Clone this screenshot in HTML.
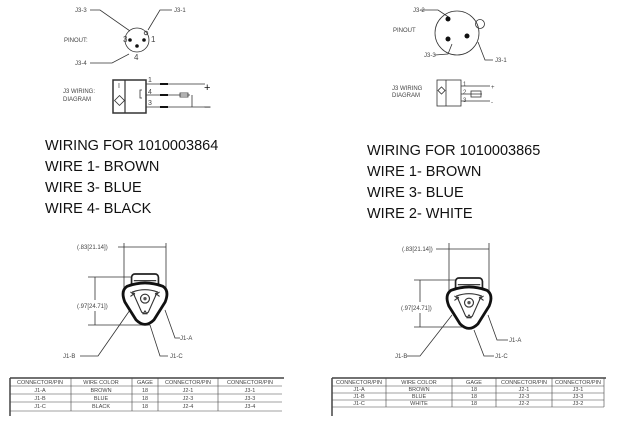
<!DOCTYPE html>
<html><head><style>
body{margin:0;background:#fff;width:624px;height:425px;overflow:hidden}
svg{display:block}
.s{font-family:"Liberation Sans",sans-serif;font-size:6px;fill:#444}
.b{font-family:"Liberation Sans",sans-serif;font-size:14.5px;fill:#111}
.t{font-family:"Liberation Sans",sans-serif;font-size:5.5px;fill:#444;text-anchor:middle}
</style></head><body>
<svg width="624" height="425" viewBox="0 0 624 425">
<defs>
<g id="conn">
 <rect x="-12" y="-25" width="24" height="12" rx="3" fill="#fff" stroke="#222" stroke-width="1.5"/>
 <line x1="-10" y1="-19" x2="10" y2="-19" stroke="#222"/>
 <path d="M-16,-14 Q0,-20 16,-14 Q22,-10 18,0 L8,16 Q0,24 -8,16 L-18,0 Q-22,-10 -16,-14Z" fill="#fff" stroke="#111" stroke-width="2.5"/>
 <path d="M-11,-9 Q0,-13 11,-9 L3,9 Q0,12 -3,9Z" fill="none" stroke="#333" stroke-width="1"/>
 <circle cx="0" cy="-3" r="4" fill="none" stroke="#333" stroke-width="1"/>
 <circle cx="0" cy="-3" r="1.5" fill="#555"/>
 <path d="M-13,-9 l4,3 M-13,-5 l4,-3 M13,-9 l-4,3 M13,-5 l-4,-3 M-2,11 l2,-3 l2,3" stroke="#333" fill="none"/>
</g>
</defs>
<g stroke="#333" stroke-width="0.8" fill="none">
 <circle cx="137" cy="40" r="12"/>
 <polyline points="90,10 100,10 130,31"/>
 <polyline points="172,10 160,10 148,30"/>
 <polyline points="90,63 112,63 129,54"/>
 <circle cx="146" cy="33" r="1.8"/>
 <rect x="113" y="80" width="33" height="33" stroke-width="1.5"/>
 <line x1="125" y1="80" x2="125" y2="113" stroke-width="1.2"/>
 <rect x="116" y="97" width="7" height="7" transform="rotate(45 119.5 100.5)"/>
 <polyline points="142,90 140,90 140,98 142,98"/>
 <line x1="146" y1="84" x2="205" y2="84"/>
 <line x1="146" y1="95" x2="190" y2="95"/>
 <line x1="146" y1="107" x2="205" y2="107"/>
 <rect x="180" y="93" width="8" height="4"/>
 <line x1="192" y1="95" x2="192" y2="107"/>
 <circle cx="457" cy="33" r="22"/>
 <polyline points="420,10 438,10 450,18"/>
 <polyline points="435,55 448,54 452,44"/>
 <polyline points="493,60 485,60 478,42"/>
 <circle cx="480" cy="24" r="4.5"/>
 <rect x="437" y="80" width="24" height="26"/>
 <line x1="446" y1="80" x2="446" y2="106"/>
 <rect x="439" y="88" width="5" height="5" transform="rotate(45 441.5 90.5)"/>
 <line x1="461" y1="86" x2="490" y2="86"/>
 <line x1="461" y1="94" x2="482" y2="94"/>
 <line x1="461" y1="101" x2="490" y2="101"/>
 <rect x="471" y="91" width="10" height="6"/>
 <line x1="124" y1="243" x2="124" y2="292"/>
 <line x1="166" y1="243" x2="166" y2="300"/>
 <line x1="118" y1="247" x2="166" y2="247"/>
 <line x1="88" y1="277" x2="140" y2="277"/>
 <line x1="88" y1="325" x2="150" y2="325"/>
 <line x1="95" y1="277" x2="95" y2="300"/><line x1="95" y1="311" x2="95" y2="325"/>
 <polyline points="165,310 175,338 180,338"/>
 <polyline points="80,356 98,356 130,310"/>
 <polyline points="150,325 160,356 168,356"/>
 <line x1="449" y1="243" x2="449" y2="292"/>
 <line x1="489" y1="243" x2="489" y2="300"/>
 <line x1="436" y1="249" x2="489" y2="249"/>
 <line x1="414" y1="280" x2="460" y2="280"/>
 <line x1="414" y1="327" x2="470" y2="327"/>
 <line x1="420" y1="280" x2="420" y2="302"/><line x1="420" y1="313" x2="420" y2="327"/>
 <polyline points="488,315 497,340 508,340"/>
 <polyline points="407,356 420,356 452,315"/>
 <polyline points="474,330 484,356 494,356"/>
</g>
<g fill="#111">
 <circle cx="130" cy="40" r="1.8"/><circle cx="144" cy="40" r="1.8"/><circle cx="137" cy="46" r="1.8"/>
 <circle cx="448" cy="19" r="2.5"/><circle cx="448" cy="39" r="2.5"/><circle cx="467" cy="36" r="2.5"/>
 <rect x="160" y="83" width="8" height="2"/><rect x="160" y="94" width="8" height="2"/><rect x="160" y="106" width="8" height="2"/>
</g>
<text class="s" x="75" y="12">J3-3</text><text class="s" x="174" y="12">J3-1</text>
<text class="s" x="64" y="42">PINOUT:</text><text class="s" x="75" y="65">J3-4</text>
<text class="s" x="123" y="42" style="font-size:8px">3</text><text class="s" x="151" y="42" style="font-size:8px">1</text><text class="s" x="134" y="60" style="font-size:8px">4</text>
<text class="s" x="63" y="93">J3 WIRING:</text><text class="s" x="63" y="101">DIAGRAM</text>
<text class="s" x="118" y="88" style="font-size:7px">I</text>
<text class="s" x="148" y="82" style="font-size:7px">1</text><text class="s" x="148" y="94" style="font-size:7px">4</text><text class="s" x="148" y="105" style="font-size:7px">3</text>
<text class="s" x="204" y="91" style="font-size:11px;fill:#111">+</text><text class="s" x="204" y="111" style="font-size:12px;fill:#111">−</text>
<text class="s" x="413" y="12">J3-2</text><text class="s" x="393" y="32">PINOUT</text>
<text class="s" x="424" y="57">J3-3</text><text class="s" x="495" y="62">J3-1</text>
<text class="s" x="392" y="90">J3 WIRING</text><text class="s" x="392" y="97">DIAGRAM</text>
<text class="s" x="463" y="86">1</text><text class="s" x="463" y="94">2</text><text class="s" x="463" y="102">3</text>
<text class="s" x="491" y="89">+</text><text class="s" x="491" y="104">-</text>
<text class="b" x="45" y="150">WIRING FOR 1010003864</text>
<text class="b" x="45" y="171">WIRE 1- BROWN</text>
<text class="b" x="45" y="192">WIRE 3- BLUE</text>
<text class="b" x="45" y="213">WIRE 4- BLACK</text>
<text class="b" x="367" y="155">WIRING FOR 1010003865</text>
<text class="b" x="367" y="176">WIRE 1- BROWN</text>
<text class="b" x="367" y="197">WIRE 3- BLUE</text>
<text class="b" x="367" y="218">WIRE 2- WHITE</text>
<text class="s" x="77" y="249">(.83[21.14])</text>
<text class="s" x="77" y="308">(.97[24.71])</text>
<text class="s" x="180" y="340">J1-A</text><text class="s" x="63" y="358">J1-B</text><text class="s" x="170" y="358">J1-C</text>
<text class="s" x="402" y="251">(.83[21.14])</text>
<text class="s" x="401" y="310">(.97[24.71])</text>
<text class="s" x="509" y="342">J1-A</text><text class="s" x="395" y="358">J1-B</text><text class="s" x="495" y="358">J1-C</text>
<use href="#conn" transform="translate(145 302) scale(1.12)"/>
<use href="#conn" transform="translate(469 306) scale(1.12)"/>
<g stroke="#444" stroke-width="0.6" fill="none">
 <line x1="10" y1="378" x2="284" y2="378" stroke-width="1.5"/>
 <line x1="10" y1="378" x2="10" y2="416" stroke-width="1.5"/>
 <line x1="10" y1="386" x2="282" y2="386"/><line x1="10" y1="394" x2="282" y2="394"/><line x1="10" y1="402" x2="282" y2="402"/><line x1="10" y1="411" x2="282" y2="411"/>
 <line x1="71" y1="378" x2="71" y2="411"/><line x1="132" y1="378" x2="132" y2="411"/><line x1="158" y1="378" x2="158" y2="411"/><line x1="218" y1="378" x2="218" y2="411"/>
 <line x1="332" y1="378" x2="606" y2="378" stroke-width="1.5"/>
 <line x1="332" y1="378" x2="332" y2="416" stroke-width="1.5"/>
 <line x1="332" y1="386" x2="604" y2="386"/><line x1="332" y1="393" x2="604" y2="393"/><line x1="332" y1="400" x2="604" y2="400"/><line x1="332" y1="407" x2="604" y2="407"/>
 <line x1="604" y1="378" x2="604" y2="407"/>
 <line x1="386" y1="378" x2="386" y2="407"/><line x1="452" y1="378" x2="452" y2="407"/><line x1="496" y1="378" x2="496" y2="407"/><line x1="552" y1="378" x2="552" y2="407"/>
</g>
<g>
 <text class="t" x="40" y="384">CONNECTOR/PIN</text><text class="t" x="101" y="384">WIRE COLOR</text><text class="t" x="145" y="384">GAGE</text><text class="t" x="188" y="384">CONNECTOR/PIN</text><text class="t" x="250" y="384">CONNECTOR/PIN</text>
 <text class="t" x="40" y="392">J1-A</text><text class="t" x="101" y="392">BROWN</text><text class="t" x="145" y="392">18</text><text class="t" x="188" y="392">J2-1</text><text class="t" x="250" y="392">J3-1</text>
 <text class="t" x="40" y="400">J1-B</text><text class="t" x="101" y="400">BLUE</text><text class="t" x="145" y="400">18</text><text class="t" x="188" y="400">J2-3</text><text class="t" x="250" y="400">J3-3</text>
 <text class="t" x="40" y="408">J1-C</text><text class="t" x="101" y="408">BLACK</text><text class="t" x="145" y="408">18</text><text class="t" x="188" y="408">J2-4</text><text class="t" x="250" y="408">J3-4</text>
 <text class="t" x="359" y="384">CONNECTOR/PIN</text><text class="t" x="419" y="384">WIRE COLOR</text><text class="t" x="474" y="384">GAGE</text><text class="t" x="524" y="384">CONNECTOR/PIN</text><text class="t" x="578" y="384">CONNECTOR/PIN</text>
 <text class="t" x="359" y="391">J1-A</text><text class="t" x="419" y="391">BROWN</text><text class="t" x="474" y="391">18</text><text class="t" x="524" y="391">J2-1</text><text class="t" x="578" y="391">J3-1</text>
 <text class="t" x="359" y="398">J1-B</text><text class="t" x="419" y="398">BLUE</text><text class="t" x="474" y="398">18</text><text class="t" x="524" y="398">J2-3</text><text class="t" x="578" y="398">J3-3</text>
 <text class="t" x="359" y="405">J1-C</text><text class="t" x="419" y="405">WHITE</text><text class="t" x="474" y="405">18</text><text class="t" x="524" y="405">J2-2</text><text class="t" x="578" y="405">J3-2</text>
</g>
</svg>
</body></html>
